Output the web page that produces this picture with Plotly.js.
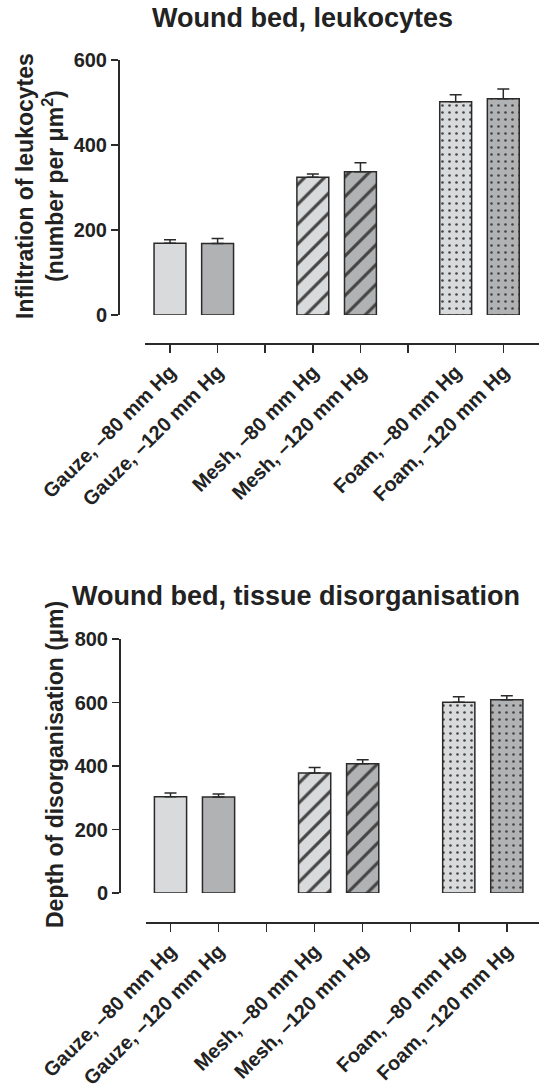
<!DOCTYPE html>
<html>
<head>
<meta charset="utf-8">
<script src="https://cdn.plot.ly/plotly-3.0.1.min.js"></script>
<style>html,body{margin:0;padding:0;background:#fff;}#chart{width:539px;height:1088px;}</style>
</head>
<body>
<div id="chart"></div>
<script>
// ---- data ----
const categories = ['Gauze, –80 mm Hg','Gauze, –120 mm Hg','Mesh, –80 mm Hg','Mesh, –120 mm Hg','Foam, –80 mm Hg','Foam, –120 mm Hg'];
const axisSlots = ['Gauze, –80 mm Hg','Gauze, –120 mm Hg','gap1','Mesh, –80 mm Hg','Mesh, –120 mm Hg','gap2','Foam, –80 mm Hg','Foam, –120 mm Hg'];
const leukocytes = [169, 168, 324, 337, 502, 509];
const leukocytesSEM = [8, 12, 8, 21, 16, 23];
const depth = [303, 302, 378, 407, 601, 609];
const depthSEM = [12, 10, 17, 13, 17, 12];
const leukTicks = [0, 200, 400, 600];
const depthTicks = [0, 200, 400, 600, 800];

// slot index of each category on the axis (gaps between the dressing groups)
const slotOf = c => axisSlots.indexOf(c);
const barSlots = categories.map(slotOf);
const gapSlots = axisSlots.filter(s => s.startsWith('gap')).map(slotOf);

// ---- styles ----
const light = '#d9dadc', dark = '#b1b2b4';
const barColors = [light, dark, light, dark, light, dark];
const patShapes = ['', '', '/', '/', '.', '.'];
const patSizes = [10, 10, 14, 14, 7, 7];
const patSolid = [0.3, 0.3, 0.22, 0.22, 0.11, 0.11];
const ink = '#2a2a2a';
const FONT = '"Liberation Sans", Arial, Helvetica, sans-serif';
const H = 1088, W = 539;
const py = p => 1 - p / H, px = p => p / W;

function barTrace(vals, sem, xa, ya) {
  return {
    type: 'bar', x: barSlots, y: vals, xaxis: xa, yaxis: ya, width: 0.67,
    marker: {
      color: barColors,
      line: {color: ink, width: 1.5},
      pattern: {shape: patShapes, fgcolor: '#111', fgopacity: 1, size: patSizes, solidity: patSolid, fillmode: 'overlay'}
    },
    error_y: {type: 'data', symmetric: false, array: sem, arrayminus: sem.map(() => 0), color: ink, thickness: 1.5, width: 6},
    hoverinfo: 'none'
  };
}

function xAx(dom0, pos, range) {
  return {
    domain: [dom0, 1], anchor: 'free', position: pos, type: 'linear',
    tickmode: 'array', tickvals: barSlots, ticktext: categories,
    minor: {tickmode: 'array', tickvals: gapSlots, ticks: 'outside', ticklen: 8, tickwidth: 1.5, tickcolor: ink, showgrid: false},
    range: range, showline: true, linecolor: ink, linewidth: 1.5, ticks: 'outside', ticklen: 8, tickwidth: 1.5, tickcolor: ink,
    tickangle: -45, tickfont: {family: FONT, size: 20, color: '#222', weight: 'bold'}, showgrid: false, zeroline: false, fixedrange: true
  };
}
function yAx(dom, pos, range, ticks) {
  return {
    domain: dom, anchor: 'free', position: pos, range: range, tickmode: 'array', tickvals: ticks,
    showline: true, linecolor: ink, linewidth: 1.5, ticks: 'outside', ticklen: 7, tickwidth: 1.5, tickcolor: ink,
    tickfont: {family: FONT, size: 20, color: '#222', weight: 'bold'}, showgrid: false, zeroline: false, fixedrange: true
  };
}

const layout = {
  width: W, height: H, margin: {l: 0, r: 0, t: 0, b: 0},
  paper_bgcolor: '#fff', plot_bgcolor: 'rgba(0,0,0,0)', showlegend: false,
  font: {family: FONT, color: '#222'},
  xaxis: xAx(px(145), py(343), [-0.525, 7.75]),
  yaxis: yAx([py(315), py(60)], px(118), [0, 600], leukTicks),
  xaxis2: xAx(px(146), py(922), [-0.51, 7.67]),
  yaxis2: yAx([py(893), py(639)], px(119), [0, 800], depthTicks),
  annotations: [
    {text: 'Wound bed, leukocytes', xref: 'paper', yref: 'paper', x: px(302), y: py(18), xanchor: 'center', yanchor: 'middle', showarrow: false,
     font: {family: FONT, size: 27, color: '#222', weight: 'bold'}},
    {text: 'Wound bed, tissue disorganisation', xref: 'paper', yref: 'paper', x: px(296), y: py(596), xanchor: 'center', yanchor: 'middle', showarrow: false,
     font: {family: FONT, size: 27, color: '#222', weight: 'bold'}},
    {text: 'Infiltration of leukocytes<br>(number per μm<sup>2</sup>)', xref: 'paper', yref: 'paper', x: px(40), y: py(186), xanchor: 'center', yanchor: 'middle',
     textangle: -90, showarrow: false, font: {family: FONT, size: 23, color: '#222', weight: 'bold'}},
    {text: 'Depth of disorganisation (μm)', xref: 'paper', yref: 'paper', x: px(55), y: py(765), xanchor: 'center', yanchor: 'middle',
     textangle: -90, showarrow: false, font: {family: FONT, size: 23, color: '#222', weight: 'bold'}}
  ]
};

Plotly.newPlot('chart', [barTrace(leukocytes, leukocytesSEM, 'x', 'y'), barTrace(depth, depthSEM, 'x2', 'y2')], layout, {staticPlot: true, displayModeBar: false});
</script>
</body>
</html>
